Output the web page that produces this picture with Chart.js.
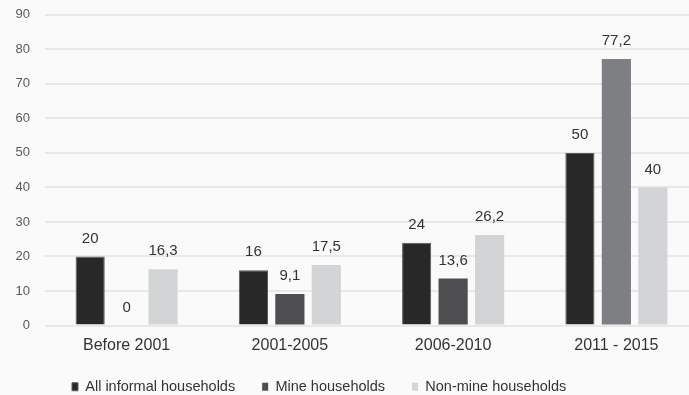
<!DOCTYPE html>
<html>
<head>
<meta charset="utf-8">
<script src="https://cdn.jsdelivr.net/npm/chart.js@4"></script>
<style>
  html, body { margin: 0; padding: 0; overflow: hidden; background: #fafafa; }
  .wrap { width: 689px; height: 395px; overflow: hidden; }
</style>
</head>
<body>
<div class="wrap"><canvas id="chart" width="700" height="404"></canvas></div>
<script>
const periods = ['Before 2001', '2001-2005', '2006-2010', '2011 - 2015'];
const allInformal = [20, 16, 24, 50];
const mine = [0, 9.1, 13.6, 77.2];
const nonMine = [16.3, 17.5, 26.2, 40];
const yTicks = [0, 10, 20, 30, 40, 50, 60, 70, 80, 90];

const fmt = v => String(v).replace('.', ',');

// value labels above each bar
const barLabels = {
  id: 'barLabels',
  afterDatasetsDraw(chart) {
    const ctx = chart.ctx;
    ctx.save();
    ctx.font = '15px "Liberation Sans", Arial, sans-serif';
    ctx.fillStyle = '#333';
    ctx.textAlign = 'center';
    ctx.textBaseline = 'middle';
    chart.data.datasets.forEach((ds, i) => {
      chart.getDatasetMeta(i).data.forEach((bar, j) => {
        ctx.fillText(fmt(ds.data[j]), bar.x, bar.y - 18);
      });
    });
    ctx.restore();
  }
};

new Chart(document.getElementById('chart'), {
  type: 'bar',
  data: {
    labels: periods,
    datasets: [
      { label: 'All informal households', data: allInformal, backgroundColor: '#282828', borderColor: '#5a5a5a', borderWidth: 1 },
      { label: 'Mine households', data: mine, backgroundColor: ['#4e4e50', '#4e4e50', '#4e4e50', '#7e7f82'], borderWidth: 0 },
      { label: 'Non-mine households', data: nonMine, backgroundColor: '#d3d4d6', borderWidth: 0 }
    ]
  },
  options: {
    responsive: false,
    animation: false,
    categoryPercentage: 0.67,
    barPercentage: 0.8,
    layout: { padding: { top: 0, right: 2, left: 0, bottom: 0 } },
    plugins: {
      legend: {
        position: 'bottom',
        fullSize: false,
        align: 'start',
        labels: {
          boxWidth: 6,
          boxHeight: 8,
          padding: 27,
          color: '#333',
          font: { family: '"Liberation Sans", Arial, sans-serif', size: 14.5 }
        }
      },
      tooltip: { enabled: false }
    },
    scales: {
      x: {
        afterFit(scale) { scale.height = 27; },
        grid: { display: false, drawTicks: false },
        border: { display: false },
        ticks: { color: '#333', padding: 12, autoSkip: false, font: { family: '"Liberation Sans", Arial, sans-serif', size: 16, lineHeight: 1 } }
      },
      y: {
        min: 0,
        max: 90,
        afterFit(scale) { scale.width = 45; },
        afterBuildTicks(scale) { scale.ticks = yTicks.map(v => ({ value: v })); },
        grid: { color: '#e8e8e8', lineWidth: 2, drawTicks: true, tickLength: 8, tickColor: 'rgba(0,0,0,0)' },
        border: { display: false },
        ticks: { color: '#595959', padding: 7, font: { family: '"Liberation Sans", Arial, sans-serif', size: 13 } }
      }
    }
  },
  plugins: [barLabels]
});
</script>
</body>
</html>
